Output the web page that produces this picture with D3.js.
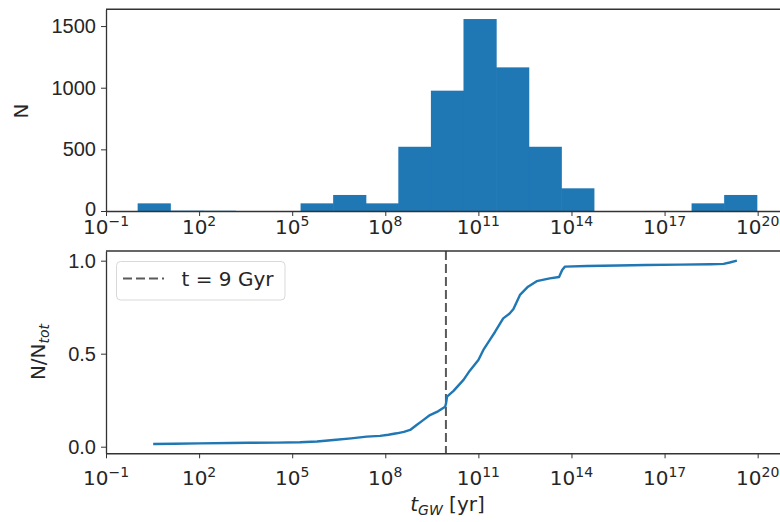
<!DOCTYPE html>
<html>
<head>
<meta charset="utf-8">
<script src="https://cdn.jsdelivr.net/npm/d3@7/dist/d3.min.js"></script>
<style>
  body { margin: 0; background: #fff; }
  svg { display: block; font-family: "DejaVu Sans", sans-serif; }
  .axis path, .axis line { stroke: #333; }
</style>
</head>
<body>
<div id="chart"></div>
<script>
// histogram: log10 bin edges (yr) and counts
const binEdgesLog = [0.02, 1.07, 2.12, 3.17, 4.22, 5.27, 6.32, 7.37, 8.42, 9.47, 10.52,
                     11.57, 12.62, 13.67, 14.72, 15.77, 16.82, 17.87, 18.92, 19.97];
const binCounts = [62, 3, 2, 0, 0, 62, 130, 62, 521, 976, 1557, 1165, 521, 184, 0, 0, 0, 62, 130];

// cumulative fraction vs log10 t_GW
const cdfLogT = [0.52, 1.2, 2.0, 3.0, 3.6, 4.5, 5.25, 5.8, 6.33, 6.9, 7.4, 7.83, 8.1, 8.37, 8.6,
                 8.8, 9.01, 9.2, 9.44, 9.7, 9.93, 9.96, 9.99, 10.2, 10.52, 10.73, 11.0, 11.16,
                 11.37, 11.54, 11.8, 12.0, 12.13, 12.34, 12.6, 12.88, 13.3, 13.6, 13.7, 13.79,
                 14.5, 15.5, 16.4, 17.5, 18.5, 18.9, 19.1, 19.33];
const cdfFrac = [0.0145, 0.016, 0.018, 0.02, 0.021, 0.022, 0.024, 0.028, 0.036, 0.045, 0.054,
                 0.058, 0.064, 0.072, 0.08, 0.09, 0.117, 0.14, 0.17, 0.19, 0.215, 0.235, 0.269,
                 0.3, 0.359, 0.41, 0.466, 0.52, 0.574, 0.618, 0.69, 0.715, 0.74, 0.816, 0.86,
                 0.89, 0.905, 0.912, 0.95, 0.968, 0.971, 0.974, 0.977, 0.979, 0.981, 0.983, 0.99, 1.0];

const tLine = 9e9;           // t = 9 Gyr
const xTickExp = [-1, 2, 5, 8, 11, 14, 17, 20];
const histYTicks = [0, 500, 1000, 1500];
const cdfYTicks = [0.0, 0.5, 1.0];

const W = 780, H = 522;
const blue = '#1f77b4';
const txt = '#262626';

const svg = d3.select('#chart').append('svg')
    .attr('width', W).attr('height', H);

const x = d3.scaleLog().domain([1e-1, 1e21]).range([106, 788.7]);

// panel geometry
const top1 = 9.3, bot1 = 211;
const top2 = 251, bot2 = 453.3;

const yH = d3.scaleLinear().domain([0, 1636]).range([bot1, top1]);
const yC = d3.scaleLinear().domain([-0.0355, 1.052]).range([bot2, top2]);

function xLabels(g, baseY) {
    xTickExp.forEach(e => {
        const t = g.append('text')
            .attr('x', x(Math.pow(10, e)))
            .attr('y', baseY)
            .attr('text-anchor', 'middle')
            .attr('fill', txt)
            .style('font-size', '20px');
        t.append('tspan').text('10');
        t.append('tspan')
            .attr('dy', -8)
            .style('font-size', '14px')
            .text(e < 0 ? '\u2212' + Math.abs(e) : e);
    });
}

// ---------- top: histogram ----------
const h = svg.append('g');

h.selectAll('rect.bar')
    .data(binCounts)
    .enter()
    .append('rect')
    .attr('class', 'bar')
    .attr('x', (d, i) => x(Math.pow(10, binEdgesLog[i])))
    .attr('width', (d, i) => x(Math.pow(10, binEdgesLog[i + 1])) - x(Math.pow(10, binEdgesLog[i])) + 0.6)
    .attr('y', d => yH(d))
    .attr('height', d => yH(0) - yH(d))
    .attr('fill', blue);

const hx = h.append('g').attr('class', 'axis')
    .attr('transform', `translate(0,${bot1})`)
    .call(d3.axisBottom(x).tickValues(xTickExp.map(e => Math.pow(10, e))).tickFormat('').tickSize(5).tickSizeOuter(0));
hx.select('.domain').attr('stroke', '#111').attr('stroke-width', 1.5);
xLabels(h, 234);

const hy = h.append('g').attr('class', 'axis')
    .attr('transform', 'translate(106,0)')
    .call(d3.axisLeft(yH).tickValues(histYTicks).tickFormat(d3.format('d')).tickSize(5).tickSizeOuter(0));
hy.selectAll('text').attr('fill', txt).style('font-size', '20px').attr('x', -10);
hy.selectAll('.tick').filter(d => d === 0).select('text').attr('dy', '0.22em');
hy.select('.domain').attr('stroke-width', 1.3);

h.append('line')
    .attr('x1', 106).attr('x2', W).attr('y1', top1).attr('y2', top1)
    .attr('stroke', '#333').attr('stroke-width', 1.5);

h.append('text')
    .attr('transform', `translate(28,111) rotate(-90)`)
    .attr('text-anchor', 'middle')
    .attr('fill', txt)
    .style('font-size', '20px')
    .text('N');

// ---------- bottom: cumulative ----------
const c = svg.append('g');

c.append('line')
    .attr('x1', x(tLine)).attr('x2', x(tLine))
    .attr('y1', top2).attr('y2', bot2)
    .attr('stroke', '#5a5a5a')
    .attr('stroke-width', 2)
    .attr('stroke-dasharray', '9,4');

const cdfData = cdfLogT.map((e, i) => ({ t: Math.pow(10, e), f: cdfFrac[i] }));
c.append('path')
    .datum(cdfData)
    .attr('d', d3.line().x(d => x(d.t)).y(d => yC(d.f)))
    .attr('fill', 'none')
    .attr('stroke', blue)
    .attr('stroke-width', 2.4)
    .attr('stroke-linejoin', 'round');

const cx = c.append('g').attr('class', 'axis')
    .attr('transform', `translate(0,${bot2})`)
    .call(d3.axisBottom(x).tickValues(xTickExp.map(e => Math.pow(10, e))).tickFormat('').tickSize(5).tickSizeOuter(0));
cx.select('.domain').attr('stroke', '#111').attr('stroke-width', 1.5);
xLabels(c, 485);

const cy = c.append('g').attr('class', 'axis')
    .attr('transform', 'translate(106,0)')
    .call(d3.axisLeft(yC).tickValues(cdfYTicks).tickFormat(d3.format('.1f')).tickSize(5).tickSizeOuter(0));
cy.selectAll('text').attr('fill', txt).style('font-size', '20px').attr('x', -10);
cy.select('.domain').attr('stroke-width', 1.3);

c.append('line')
    .attr('x1', 106).attr('x2', W).attr('y1', top2).attr('y2', top2)
    .attr('stroke', '#333').attr('stroke-width', 1.5);

// legend
const lg = c.append('g');
lg.append('rect')
    .attr('x', 116.5).attr('y', 261.5)
    .attr('width', 168.5).attr('height', 38.5)
    .attr('rx', 4)
    .attr('fill', 'white').attr('fill-opacity', 0.8)
    .attr('stroke', '#d9d9d9');
lg.append('line')
    .attr('x1', 123).attr('x2', 164).attr('y1', 278.5).attr('y2', 278.5)
    .attr('stroke', '#5a5a5a').attr('stroke-width', 2)
    .attr('stroke-dasharray', '9,4');
lg.append('text')
    .attr('x', 181.5).attr('y', 286)
    .attr('fill', txt)
    .style('font-size', '20px')
    .text('t = 9 Gyr');

// axis labels
c.append('text')
    .attr('transform', `translate(45,352) rotate(-90)`)
    .attr('text-anchor', 'middle')
    .attr('fill', txt)
    .style('font-size', '20px')
    .call(t => {
        t.append('tspan').text('N/N');
        t.append('tspan').attr('dy', 4).style('font-size', '14px').style('font-style', 'italic').text('tot');
    });

const xl = c.append('text')
    .attr('x', 447.5).attr('y', 511)
    .attr('text-anchor', 'middle')
    .attr('fill', txt)
    .style('font-size', '20px');
xl.append('tspan').style('font-style', 'italic').text('t');
xl.append('tspan').attr('dy', 4).style('font-size', '14px').style('font-style', 'italic').text('GW');
xl.append('tspan').attr('dy', -4).text(' [yr]');
</script>
</body>
</html>
